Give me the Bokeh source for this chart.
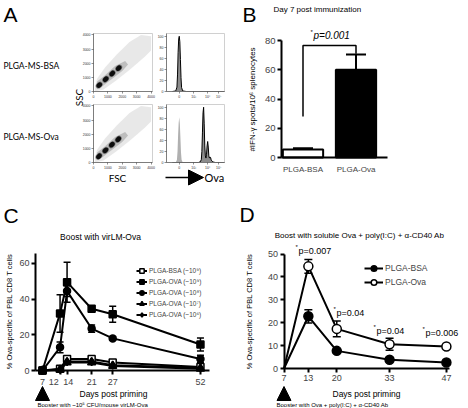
import math
from bokeh.plotting import figure
from bokeh.layouts import row, column
from bokeh.models import (Range1d, Label, Arrow, NormalHead, TeeHead, Whisker,
                          ColumnDataSource, FixedTicker, Legend, LegendItem, LinearAxis)
from bokeh.embed import file_html
from bokeh.resources import INLINE

# ------------------------------------------------------------------ data
# A: PLGA microspheres, FSC vs SSC (linear 0-4000)
bead_fsc_bsa = [400, 850, 1300, 1750]
bead_ssc_bsa = [450, 870, 1270, 1650]
bead_fsc_ova = [380, 830, 1280, 1720]
bead_ssc_ova = [440, 860, 1260, 1640]
cloud_fsc = [100, 700, 1600, 2600, 3600, 4000, 4000, 3300, 2500, 1600, 800, 250, 100]
cloud_ssc = [0, 150, 800, 1600, 2500, 2900, 3900, 4000, 3500, 2600, 1700, 900, 300]
core_fsc = [200, 600, 1300, 2000, 2400, 2200, 1500, 800, 250]
core_ssc = [250, 350, 900, 1450, 1900, 2150, 1800, 1150, 700]
fsc_ticks = [0, 1000, 2000, 3000, 4000]
# A: Ova fluorescence histograms (% of max), biexponential display units 0-100
hist_ctrl_x = [10, 16, 18, 19, 20, 21, 22, 23, 24, 25, 26, 28, 34, 100]
hist_ctrl_bsa = [0, 0, 6, 25, 60, 88, 97, 85, 55, 22, 6, 0, 0, 0]
hist_samp_bsa = [0, 1, 8, 30, 70, 95, 100, 90, 58, 25, 7, 1, 0, 0]
hist_ctrl_ova = [0, 0, 5, 20, 50, 72, 82, 70, 45, 18, 5, 0, 0, 0]
hist_samp_x = [10, 55, 58, 60, 61, 62, 63, 64, 65, 66, 67, 68, 69, 70, 71, 72, 73, 74,
               75, 76, 77, 78, 80, 84, 100]
hist_samp_ova = [0, 0, 1, 5, 20, 55, 90, 100, 70, 30, 12, 8, 15, 30, 38, 28, 12, 8,
                 10, 9, 5, 3, 1, 0, 0]
hist_pct_ticks = [0, 20, 40, 60, 80, 100]
hist_ticks = [22, 47, 71, 90]
hist_tick_labels = ["0", "10³", "10⁴", "10⁵"]

# B: IFN-gamma ELISPOT, day 7
elispot_groups = ["PLGA-BSA", "PLGA-Ova"]
elispot_mean = [5.5, 60]
elispot_sem = [0.8, 10.5]
elispot_bracket = [28, 76.5, 76.5, 71]
elispot_p = "p=0.001"
b_yticks = [0, 20, 40, 60, 80]

# C: boost with virLM-Ova
c_days = [7, 12, 14, 21, 27, 52]
c_bsa9 = [0, 1, 6.5, 6.5, 4.5, 2]
c_bsa9_err = [0, 0.5, 1.2, 1.2, 1.0, 1.0]
c_ova9 = [0, 32, 49.5, 34.6, 31.5, 14.6]
c_ova9_err = [0, 10.5, 11.2, 1.5, 4.5, 3.6]
c_ova8 = [0, 13, 44.5, 23.5, 18, 6.5]
c_ova8_err = [0, 3, 3, 2, 1, 2]
c_ova7 = [0, 0.4, 4.5, 4.5, 2.5, 1]
c_ova7_err = [0, 0.3, 1, 1, 0.8, 0.5]
c_ova6 = [0, 0.6, 5, 5, 3, 1.5]
c_ova6_err = [0, 0.3, 1, 1, 0.8, 0.5]
c_labels = ["PLGA-BSA (~10⁹)", "PLGA-OVA (~10⁹)", "PLGA-OVA (~10⁸)",
            "PLGA-OVA (~10⁷)", "PLGA-OVA (~10⁶)"]
c_yticks = [0, 20, 40, 60]

# D: boost with soluble Ova + poly(I:C) + anti-CD40
d_days = [7, 13, 20, 33, 47]
d_bsa = [0, 22.8, 7.7, 3.8, 2.6]
d_bsa_err = [0, 2.9, 0.8, 0.6, 0.5]
d_ova = [0, 44.6, 17.3, 10.6, 9.6]
d_ova_err = [0, 3.0, 3.4, 2.6, 0.8]
d_labels = ["PLGA-BSA", "PLGA-Ova"]
d_pvalues = ["p=0.007", "p=0.04", "p=0.04", "p=0.006"]
d_yticks = [0, 10, 20, 30, 40, 50]

# ------------------------------------------------------------------ helpers
FONT = "Liberation Sans"
AFONT = "Lato"
NB = "\u00a0"


class Geo:
    """maps page pixels to data units for a figure whose frame fills its canvas"""
    def __init__(self, ox, oy, w, h, xr, yr):
        self.ox, self.oy, self.w, self.h = ox, oy, w, h
        self.x0, self.x1 = xr
        self.y0, self.y1 = yr

    def x(self, px):
        return self.x0 + (px - self.ox) * (self.x1 - self.x0) / self.w

    def y(self, py):
        return self.y0 + (self.oy + self.h - py) * (self.y1 - self.y0) / self.h


def anchored_range(v, pv, scale, lo, hi):
    return (v - (pv - lo) / scale, v + (hi - pv) / scale)


def anchored_yrange(v, pv, scale, top, bottom):
    return (v - (bottom - pv) / scale, v + (pv - top) / scale)


def make_fig(ox, oy, w, h, xr, yr):
    p = figure(width=w, height=h, x_range=Range1d(*xr), y_range=Range1d(*yr),
               output_backend="svg", toolbar_location=None, title=None,
               x_axis_type=None, y_axis_type=None,
               min_border_left=0, min_border_right=0, min_border_top=0, min_border_bottom=0)
    p.outline_line_color = None
    return p, Geo(ox, oy, w, h, xr, yr)


def label(p, g, px, py, text, size, font=FONT, align="left", baseline="middle",
          angle=0, style="normal", color="black"):
    p.add_layout(Label(x=g.x(px), y=g.y(py), text=text, text_font=font,
                       text_font_size=f"{size}px", text_align=align,
                       text_baseline=baseline, angle=angle, angle_units="deg",
                       text_font_style=style, text_color=color))


def style_axis(ax, size="9px", width=2, tick=4, standoff=2, color="black"):
    ax.axis_line_width = width
    ax.axis_line_color = color
    ax.major_tick_line_width = width
    ax.major_tick_line_color = color
    ax.major_tick_out = tick
    ax.major_tick_in = 0
    ax.minor_tick_line_color = None
    ax.major_label_text_font = FONT
    ax.major_label_text_font_size = size
    ax.major_label_standoff = standoff


def booster(p, g, xval, tip, base):
    p.add_layout(Arrow(end=NormalHead(size=base - tip, fill_color="black", line_color="black"),
                       x_start=xval, y_start=g.y(base), x_end=xval, y_end=g.y(tip),
                       line_color="black", line_width=1))


# ------------------------------------------------------------------ panel A
AW, AH = 238, 203
pA, gA = make_fig(0, 0, AW, AH, (0, AW), (AH, 0))   # default ranges = page pixels

subplots = {
    "sT": ((93, 152, 33, 91), (0, 4100), (0, 4100)),
    "sB": ((93, 152, 104, 162), (0, 4100), (0, 4100)),
    "hT": ((166, 224, 33, 91), (0, 100), (0, 105)),
    "hB": ((166, 224, 104, 162), (0, 100), (0, 105)),
}
xr_extra, yr_extra = {}, {}
for name, ((l, r, t, b), xr, yr) in subplots.items():
    sx = (xr[1] - xr[0]) / (r - l)
    sy = (yr[1] - yr[0]) / (b - t)
    xr_extra[name] = Range1d(xr[0] - l * sx, xr[1] + (AW - r) * sx)
    yr_extra[name] = Range1d(yr[0] - (AH - b) * sy, yr[1] + t * sy)
pA.extra_x_ranges = xr_extra
pA.extra_y_ranges = yr_extra


def flow_frame(name, xt, yt, xover=None):
    (l, r, t, b), xr, yr = subplots[name]
    pA.quad(left=[xr[0]], right=[xr[1]], bottom=[yr[0]], top=[yr[1]],
            x_range_name=name, y_range_name=name, fill_color=None,
            line_color="#c4c4c4", line_width=0.8)
    ax = LinearAxis(x_range_name=name, fixed_location=b, bounds=xr,
                    ticker=FixedTicker(ticks=xt))
    ay = LinearAxis(y_range_name=name, fixed_location=l, bounds=yr,
                    ticker=FixedTicker(ticks=yt))
    for a in (ax, ay):
        style_axis(a, size="3.5px", width=0.6, tick=2, standoff=1, color="#444444")
        a.major_label_text_color = "#333333"
    if xover:
        ax.major_label_overrides = xover
    pA.add_layout(ax, "below")
    pA.add_layout(ay, "left")


for name, bx, by in [("sT", bead_fsc_bsa, bead_ssc_bsa), ("sB", bead_fsc_ova, bead_ssc_ova)]:
    pA.patch(cloud_fsc, cloud_ssc, x_range_name=name, y_range_name=name,
             fill_color="#d6d6d6", fill_alpha=0.55, line_color=None)
    pA.patch(core_fsc, core_ssc, x_range_name=name, y_range_name=name,
             fill_color="#8a8a8a", fill_alpha=0.45, line_color=None)
    pA.ellipse(x=bx, y=by, width=560, height=410, angle=math.pi / 4,
               x_range_name=name, y_range_name=name,
               fill_color="#555555", fill_alpha=0.6, line_color=None)
    pA.ellipse(x=bx, y=by, width=440, height=330, angle=math.pi / 4,
               x_range_name=name, y_range_name=name,
               fill_color="#0d0d0d", line_color=None)
    flow_frame(name, fsc_ticks, fsc_ticks)

hist_over = dict(zip(hist_ticks, hist_tick_labels))
pA.varea(x=hist_ctrl_x, y1=0, y2=hist_ctrl_bsa, x_range_name="hT", y_range_name="hT",
         fill_color="#8c8c8c")
pA.line(hist_ctrl_x, hist_samp_bsa, x_range_name="hT", y_range_name="hT",
        line_color="black", line_width=1)
flow_frame("hT", hist_ticks, hist_pct_ticks, hist_over)
pA.varea(x=hist_ctrl_x, y1=0, y2=hist_ctrl_ova, x_range_name="hB", y_range_name="hB",
         fill_color="#b0b0b0")
pA.varea(x=hist_samp_x, y1=0, y2=hist_samp_ova, x_range_name="hB", y_range_name="hB",
         fill_color="#8c8c8c")
pA.line(hist_samp_x, hist_samp_ova, x_range_name="hB", y_range_name="hB",
        line_color="black", line_width=1)
flow_frame("hB", hist_ticks, hist_pct_ticks, hist_over)

label(pA, gA, 3, 14, "A", 21)
label(pA, gA, 3, 65, "PLGA-MS-BSA", 8.5, font=AFONT)
label(pA, gA, 3, 136, "PLGA-MS-Ova", 8.5, font=AFONT)
label(pA, gA, 78, 97, "SSC", 10, font=AFONT, align="center", angle=90)
label(pA, gA, 117, 177, "FSC", 10, font=AFONT, align="center")
pA.add_layout(Arrow(end=NormalHead(size=15, fill_color="black", line_color="black"),
                    x_start=gA.x(165), y_start=gA.y(177), x_end=gA.x(203), y_end=gA.y(177),
                    line_color="black", line_width=1.5))
label(pA, gA, 204, 177, "Ova", 11, font=AFONT)

# ------------------------------------------------------------------ panel B
b_pos = list(range(1, len(elispot_groups) + 1))
BX0, BY0, BW, BH = 238, 0, 230, 203
bsx, bsy = 53.0, 1.4625
b_xr = anchored_range(b_pos[0], 302.5, bsx, BX0, BX0 + BW)
b_yr = anchored_yrange(0, 157, bsy, BY0, BY0 + BH)
pB, gB = make_fig(BX0, BY0, BW, BH, b_xr, b_yr)
srcB = ColumnDataSource(dict(x=b_pos, top=elispot_mean,
                             upper=[m + s for m, s in zip(elispot_mean, elispot_sem)],
                             fill=["white", "black"]))
pB.add_layout(Whisker(source=srcB, base="x", upper="upper", lower="top",
                      upper_head=TeeHead(size=20, line_width=2), lower_head=None,
                      line_width=2))
pB.vbar(x="x", top="top", bottom=0, width=0.76, source=srcB, fill_color="fill",
        line_color="black", line_width=2)
pB.line(x=[b_pos[0], b_pos[0], b_pos[1], b_pos[1]], y=elispot_bracket,
        line_color="black", line_width=1.5)
bx_axis = LinearAxis(fixed_location=0, bounds=(gB.x(281), gB.x(387)),
                     ticker=FixedTicker(ticks=b_pos))
style_axis(bx_axis, "8px")
bx_axis.major_tick_out = 0
bx_axis.major_label_standoff = 7
bx_axis.major_label_overrides = dict(zip(b_pos, elispot_groups))
pB.add_layout(bx_axis, "below")
by_axis = LinearAxis(fixed_location=gB.x(281), bounds=(0, 80),
                     ticker=FixedTicker(ticks=b_yticks))
style_axis(by_axis, "9.5px")
pB.add_layout(by_axis, "left")
label(pB, gB, 242, 14, "B", 21)
label(pB, gB, 273, 9, "Day 7 post immunization", 8)
label(pB, gB, 252, 99, "#IFN-γ spots/10⁶ splenocytes", 8, align="center", angle=90)
label(pB, gB, 310, 31, "*", 6)
label(pB, gB, 313, 35, elispot_p, 10, style="italic")

# ------------------------------------------------------------------ panel C
CX0, CY0, CW, CH = 0, 203, 236, 205
csx, csy = 3.51, 1.784
c_xr = anchored_range(c_days[0], 42, csx, CX0, CX0 + CW)
c_yr = anchored_yrange(0, 370, csy, CY0, CY0 + CH)
pC, gC = make_fig(CX0, CY0, CW, CH, c_xr, c_yr)
c_specs = [
    (c_bsa9, c_bsa9_err, "square", "white", 7),
    (c_ova9, c_ova9_err, "square", "black", 7),
    (c_ova8, c_ova8_err, "circle", "black", 7),
    (c_ova7, c_ova7_err, "triangle", "black", 8),
    (c_ova6, c_ova6_err, "diamond", "black", 8),
]
c_items = []
for (vals, errs, mk, fc, sz), lab in zip(c_specs, c_labels):
    lr = pC.line(c_days, vals, line_color="black", line_width=2)
    keep = [i for i, e in enumerate(errs) if e > 0]
    src = ColumnDataSource(dict(x=[c_days[i] for i in keep],
                                upper=[vals[i] + errs[i] for i in keep],
                                lower=[vals[i] - errs[i] for i in keep]))
    pC.add_layout(Whisker(source=src, base="x", upper="upper", lower="lower",
                          upper_head=TeeHead(size=7, line_width=1.5),
                          lower_head=TeeHead(size=7, line_width=1.5), line_width=1.5))
    sr = pC.scatter(c_days, vals, marker=mk, size=sz, fill_color=fc,
                    line_color="black", line_width=1.5)
    c_items.append(LegendItem(label=lab, renderers=[lr, sr]))
pC.add_layout(Legend(items=c_items, location=(136, 408 - 320), glyph_width=11,
                     glyph_height=11, label_height=11, label_width=10, spacing=0,
                     padding=0, margin=0, label_standoff=2, label_text_font=FONT,
                     label_text_font_size="6.5px", border_line_color=None,
                     background_fill_alpha=0))
cx_axis = LinearAxis(fixed_location=0, bounds=(gC.x(35), gC.x(209)),
                     ticker=FixedTicker(ticks=c_days))
style_axis(cx_axis, "9px")
cx_axis.major_label_overrides = {12: "12" + NB * 5, 14: NB + "14"}
pC.add_layout(cx_axis, "below")
cy_axis = LinearAxis(fixed_location=gC.x(35), bounds=(0, 65.5),
                     ticker=FixedTicker(ticks=c_yticks))
style_axis(cy_axis, "9px")
pC.add_layout(cy_axis, "left")
label(pC, gC, 3, 215, "C", 21)
label(pC, gC, 100, 236, "Boost with virLM-Ova", 8.5, align="center")
label(pC, gC, 9, 311, "% Ova-specific of PBL CD8 T cells", 7.5, align="center", angle=90)
label(pC, gC, 113, 393, "Days post priming", 8.5, align="center")
booster(pC, gC, c_days[0], 386, 400)
label(pC, gC, 37, 404, "Booster with ~10⁵ CFU/mouse virLM-Ova", 6)

# ------------------------------------------------------------------ panel D
DX0, DY0, DW, DH = 236, 203, 232, 205
dsx, dsy = 4.06, 2.29
d_xr = anchored_range(d_days[0], 283.5, dsx, DX0, DX0 + DW)
d_yr = anchored_yrange(0, 368, dsy, DY0, DY0 + DH)
pD, gD = make_fig(DX0, DY0, DW, DH, d_xr, d_yr)
d_items = []
for vals, errs, fc, lab in [(d_bsa, d_bsa_err, "black", d_labels[0]),
                            (d_ova, d_ova_err, "white", d_labels[1])]:
    lr = pD.line(d_days, vals, line_color="black", line_width=2)
    keep = [i for i, e in enumerate(errs) if e > 0]
    src = ColumnDataSource(dict(x=[d_days[i] for i in keep],
                                upper=[vals[i] + errs[i] for i in keep],
                                lower=[vals[i] - errs[i] for i in keep]))
    pD.add_layout(Whisker(source=src, base="x", upper="upper", lower="lower",
                          upper_head=TeeHead(size=8, line_width=1.5),
                          lower_head=TeeHead(size=8, line_width=1.5), line_width=1.5))
    # the day-7 baseline point sits in the axis corner and carries no marker
    sr = pD.scatter(d_days[1:], vals[1:], marker="circle", size=9, fill_color=fc,
                    line_color="black", line_width=1.5)
    d_items.append(LegendItem(label=lab, renderers=[lr, sr]))
pD.add_layout(Legend(items=d_items, location=(364 - DX0, 408 - 289), glyph_width=19,
                     glyph_height=14, label_height=14, label_width=10, spacing=0,
                     padding=0, margin=0, label_standoff=2, label_text_font=FONT,
                     label_text_font_size="8.5px", border_line_color=None,
                     background_fill_alpha=0))
dx_axis = LinearAxis(fixed_location=0, bounds=(d_days[0], gD.x(449)),
                     ticker=FixedTicker(ticks=d_days))
style_axis(dx_axis, "9px")
pD.add_layout(dx_axis, "below")
dy_axis = LinearAxis(fixed_location=d_days[0], bounds=(0, 50),
                     ticker=FixedTicker(ticks=d_yticks))
style_axis(dy_axis, "9px")
pD.add_layout(dy_axis, "left")
label(pD, gD, 239, 214, "D", 21)
label(pD, gD, 359, 235, "Boost with soluble Ova + poly(I:C) + α-CD40 Ab", 8, align="center")
label(pD, gD, 249, 311, "% Ova-specific of PBL CD8 T cells", 7.5, align="center", angle=90)
label(pD, gD, 366, 393, "Days post priming", 8.5, align="center")
booster(pD, gD, d_days[0], 386, 400)
label(pD, gD, 276, 404, "Booster with Ova + poly(I:C) + α-CD40 Ab", 6)
for (px, py), ptxt in zip([(295, 250), (333, 312), (373, 330), (422, 332)], d_pvalues):
    label(pD, gD, px, py - 4, "*", 6)
    label(pD, gD, px + 3, py, ptxt, 9)

# ------------------------------------------------------------------ layout
layout = column(row(pA, pB), row(pC, pD))

open("out.html", "w").write(file_html(layout, INLINE))
